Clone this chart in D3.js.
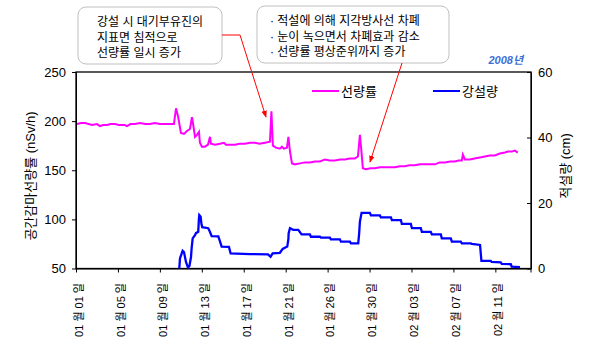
<!DOCTYPE html>
<html><head><meta charset="utf-8">
<script src="https://cdn.jsdelivr.net/npm/d3@7"></script>
<style>body{margin:0;background:#fff}svg{display:block}</style>
</head><body><svg id="c" width="609" height="353"></svg>
<script>
// x values: elapsed days of record (tick every 4 record-days)
const tickLabels = ["01 월 01 일","01 월 05 일","01 월 09 일","01 월 13 일","01 월 17 일","01 월 21 일","01 월 26 일","01 월 30 일","02 월 03 일","02 월 07 일","02 월 11 일"];
const tickPos = [0,4,8,12,16,20,24,28,32,36,40];
const doseX = [0.1,0.5,0.86,1.2,1.53,2.0,2.29,2.6,2.96,3.3,3.72,4.1,4.67,4.86,5.2,5.63,6.1,6.6,7.06,7.5,8.01,8.4,8.77,9.34,9.54,9.73,10.01,10.3,10.58,10.87,11.06,11.2,11.35,11.54,11.73,11.82,12.01,12.3,12.59,12.78,12.87,13.25,13.73,14.11,14.3,15.16,15.6,16.11,16.6,17.07,17.5,18.02,18.5,18.64,18.78,19.07,19.45,19.64,19.83,20.12,20.26,20.4,20.6,20.88,21.36,21.8,22.31,22.8,23.27,23.74,24.2,24.7,25.2,25.65,26.1,26.6,26.89,27.08,27.22,27.36,27.65,28.1,28.51,29.0,29.46,29.9,30.42,30.9,31.37,31.8,32.32,32.8,33.28,33.7,34.23,34.7,35.18,35.7,36.14,36.5,36.8,36.9,37.09,37.57,38.0,38.52,39.0,39.47,39.95,40.43,40.91,41.2,41.57,41.86,42.14];
const doseVal = [197,198,198,197,196,197,195,196,196,197,197,196,196,195,197,197,198,197,197,198,197,197,197,197,213,205,188,187,190,192,204,195,184,186,189,178,174,174,176,184,177,176,177,178,176,176,177,177,178,178,177,178,179,210,175,173,172,174,172,173,184,170,157,156,157,158,158,159,159,161,160,160,161,161,162,162,164,186,170,152,151,152,152,153,153,153,153,154,154,155,155,156,156,156,156,158,158,159,159,160,160,166,161,161,162,163,164,165,165,167,168,169,169,170,168];
const snowX = [9.85,9.92,10.17,10.3,10.49,10.68,10.82,10.97,11.03,11.13,11.35,11.44,11.66,11.73,11.76,11.89,11.97,12.04,12.61,12.73,12.94,13.57,13.68,13.89,14.59,14.75,16.59,18.31,18.56,18.76,19.45,19.71,20.15,20.26,20.28,20.41,20.72,21.2,21.52,22.31,22.41,23.27,23.36,24.22,24.31,25.17,25.27,26.13,26.22,26.92,27.01,27.08,27.24,28.03,28.13,28.99,29.08,30.04,30.13,30.99,31.08,31.94,32.04,32.89,32.99,33.84,33.94,34.8,34.89,35.75,35.85,36.7,36.8,37.66,37.75,38.54,38.67,39.56,39.65,40.51,40.61,41.47,41.56,42.35];
const snowVal = [0,3.1,5.4,5.0,2.0,0.3,0.8,3.5,6.2,9.2,10.2,10.8,11.2,15.5,16.3,15.8,13.5,12.6,12.3,11.5,9.9,9.8,8.8,6.7,6.6,4.6,4.4,4.3,3.6,4.6,4.8,6.0,6.7,9.0,10.7,12.3,11.8,11.8,10.4,10.4,9.7,9.7,9.4,9.4,8.9,8.9,8.2,8.2,7.7,7.7,10.7,14.3,17.0,17.0,16.2,16.2,15.6,15.6,14.8,14.8,13.6,13.6,12.3,12.3,11.2,11.2,10.4,10.4,9.2,9.2,8.2,8.2,7.7,7.7,7.5,7.2,2.3,2.3,2.0,1.9,1.4,1.3,0.6,0.4];
const leftTicks = [50,100,150,200,250];
const rightTicks = [0,20,40,60];
const seriesNames = ["선량률","강설량"];
const note1 = ["강설 시 대기부유진의","지표면 침적으로","선량률 일시 증가"];
const note2 = ["· 적설에 의해 지각방사선 차폐","· 눈이 녹으면서 차폐효과 감소","· 선량률 평상준위까지 증가"];

const L=76,R=531,T=72,B=268.5;
const svg=d3.select("#c");
const x=d3.scaleLinear().domain([0,43.4]).range([L,R]);
const yL=d3.scaleLinear().domain([50,250]).range([B,T]);
const yR=d3.scaleLinear().domain([0,60]).range([B,T]);
const numFont='"Liberation Sans", Arial, sans-serif';
const korFont='"Liberation Sans", "Noto Sans CJK KR", sans-serif';

svg.append("defs").append("marker").attr("id","ah").attr("viewBox","0 0 10 10")
 .attr("refX",9).attr("refY",5).attr("markerWidth",7).attr("markerHeight",7).attr("orient","auto")
 .append("path").attr("d","M0,1L10,5L0,9z").attr("fill","#ff0000");

// frame
svg.append("rect").attr("x",L).attr("y",T).attr("width",R-L).attr("height",B-T)
 .attr("fill","none").attr("stroke","#000").attr("stroke-width",1.3);

// left axis
const ga=svg.append("g").attr("transform",`translate(${L},0)`)
 .call(d3.axisLeft(yL).tickValues(leftTicks).tickSize(4).tickSizeOuter(0).tickPadding(6));
ga.select(".domain").attr("stroke","#000");
ga.selectAll("text").attr("font-family",numFont).attr("font-size",13).attr("fill","#000");
// right axis
const gr=svg.append("g").attr("transform",`translate(${R},0)`)
 .call(d3.axisRight(yR).tickValues(rightTicks).tickSize(-4).tickSizeOuter(0).tickPadding(7));
gr.selectAll("text").attr("font-family",numFont).attr("font-size",13).attr("fill","#000");
// bottom axis
const gb=svg.append("g").attr("transform",`translate(0,${B})`)
 .call(d3.axisBottom(x).tickValues(tickPos).tickSize(4).tickSizeOuter(0).tickFormat(""));
gb.append("line").attr("x1",R).attr("x2",R).attr("y1",0).attr("y2",4).attr("stroke","#000");
svg.append("g").selectAll("text").data(tickPos).join("text")
 .attr("transform",d=>`translate(${x(d)+3},283) rotate(-90)`)
 .attr("text-anchor","end").attr("dy","0.35em")
 .attr("font-family",korFont).attr("font-size",11).attr("fill","#000")
 .text((d,i)=>tickLabels[i]);

// axis titles
svg.append("text").attr("transform","translate(30,176) rotate(-90)").attr("text-anchor","middle")
 .attr("dy","0.35em").attr("font-family",korFont).attr("font-size",13).text("공간감마선량률 (nSv/h)");
svg.append("text").attr("transform","translate(565,166) rotate(-90)").attr("text-anchor","middle")
 .attr("dy","0.35em").attr("font-family",korFont).attr("font-size",13).text("적설량 (cm)");

// lines
const dose=doseX.map((d,i)=>[d,doseVal[i]]);
const snow=snowX.map((d,i)=>[d,snowVal[i]]);
svg.append("path").datum(dose).attr("fill","none").attr("stroke","#ff00ff").attr("stroke-width",2)
 .attr("d",d3.line().x(d=>x(d[0])).y(d=>yL(d[1])));
svg.append("path").datum(snow).attr("fill","none").attr("stroke","#0000ff").attr("stroke-width",2.3)
 .attr("d",d3.line().x(d=>x(d[0])).y(d=>yR(d[1])));

// legend
const leg=[{x:312,c:"#ff00ff"},{x:433,c:"#0000ff"}];
leg.forEach((l,i)=>{
 svg.append("line").attr("x1",l.x).attr("x2",l.x+27).attr("y1",91).attr("y2",91).attr("stroke",l.c).attr("stroke-width",2);
 svg.append("text").attr("x",l.x+29).attr("y",91).attr("dy","0.35em").attr("font-family",korFont)
  .attr("font-size",13).text(seriesNames[i]);
});

// year label
svg.append("text").attr("x",523).attr("y",64).attr("text-anchor","end").attr("font-family",korFont)
 .attr("font-size",11).attr("font-weight","bold").attr("font-style","italic").attr("fill","#3d6fd6").text("2008년");

// callouts
function box(x0,y0,w,h,lines,tx){
 svg.append("rect").attr("x",x0).attr("y",y0).attr("width",w).attr("height",h).attr("rx",8)
  .attr("fill","#fff").attr("stroke","#c0c0c0").attr("stroke-width",1);
 lines.forEach((t,i)=>svg.append("text").attr("x",tx).attr("y",y0+19+i*15.5).attr("font-family",korFont)
  .attr("font-size",12).attr("fill","#000").text(t));
}
box(78,7,144,57,note1,97);
box(257,6,192,57,note2,270);
svg.append("path").attr("d","M222,35L240,35L266,117").attr("fill","none").attr("stroke","#ff0000")
 .attr("stroke-width",1).attr("marker-end","url(#ah)");
svg.append("path").attr("d","M402,63L370,162").attr("fill","none").attr("stroke","#ff0000")
 .attr("stroke-width",1).attr("marker-end","url(#ah)");
</script></body></html>
